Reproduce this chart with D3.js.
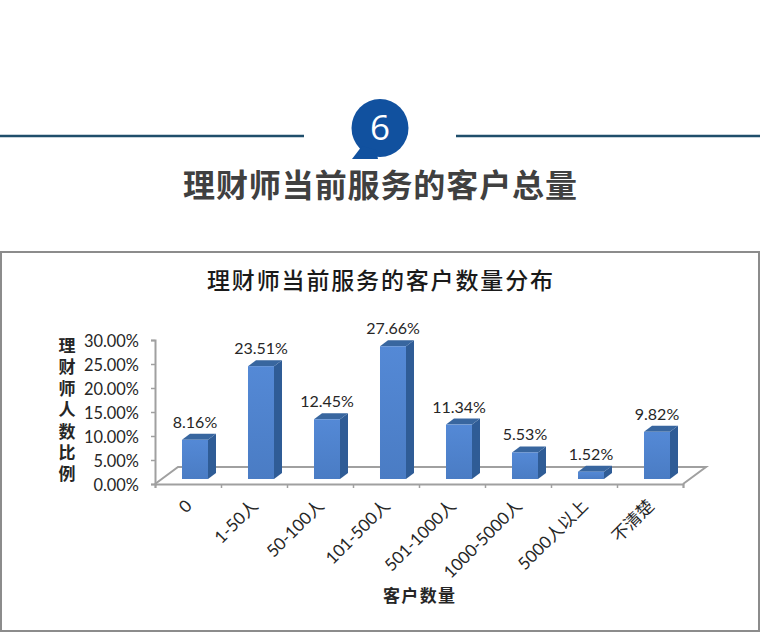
<!DOCTYPE html>
<html>
<head>
<meta charset="utf-8">
<style>
	html, body { margin: 0; padding: 0; background: #fff; }
	svg { display: block; }
</style>
<script src="https://cdn.jsdelivr.net/npm/d3@7"></script>
</head>
<body>
<div id="chart"></div>
<script>
const categories = ["0", "1-50人", "50-100人", "101-500人", "501-1000人", "1000-5000人", "5000人以上", "不清楚"];
const values = [8.16, 23.51, 12.45, 27.66, 11.34, 5.53, 1.52, 9.82];
const yTicks = [0, 5, 10, 15, 20, 25, 30];
const yTitle = "理财师人数比例";

const width = 760,
	height = 632,
	cjk = "'Noto Sans CJK SC', sans-serif",
	latin = "Lato, 'Noto Sans CJK SC', sans-serif",
	inkColor = "#262626",
	axisColor = "#a0a0a0",
	floorX = 23, // floor depth
	floorY = 17,
	barX = 8, // bar depth
	barY = 6,
	barLift = 5, // bars stand on the middle of the floor
	barShift = 7;

const svg = d3
	.select("#chart")
	.append("svg")
	.attr("width", width)
	.attr("height", height);

const defs = svg.append("defs");
const grad = defs
	.append("linearGradient")
	.attr("id", "front")
	.attr("x1", 0)
	.attr("x2", 0)
	.attr("y1", 0)
	.attr("y2", 1);
grad.append("stop").attr("offset", 0).attr("stop-color", "#5489d6");
grad.append("stop").attr("offset", 1).attr("stop-color", "#4a7cc4");

// section header
svg.append("line").attr("x1", 0).attr("x2", 304).attr("y1", 136).attr("y2", 136)
	.attr("stroke", "#1f4e6b").attr("stroke-width", 2.5);
svg.append("line").attr("x1", 456).attr("x2", 760).attr("y1", 136).attr("y2", 136)
	.attr("stroke", "#1f4e6b").attr("stroke-width", 2.5);
svg.append("ellipse").attr("cx", 380).attr("cy", 128).attr("rx", 28.5).attr("ry", 29)
	.attr("fill", "#11519f");
svg.append("path").attr("d", "M362,146L352,159H378L376,150Z").attr("fill", "#11519f");
svg.append("text").attr("x", 380).attr("y", 140).attr("text-anchor", "middle")
	.attr("font-family", "'Open Sans', sans-serif").attr("font-size", 35)
	.attr("fill", "#fff").text("6");
svg.append("text").attr("x", 380).attr("y", 197).attr("text-anchor", "middle")
	.attr("font-family", cjk).attr("font-size", 32).attr("font-weight", 700)
	.attr("textLength", 394).attr("fill", "#404040").text("理财师当前服务的客户总量");

// chart frame
svg.append("rect").attr("x", 1).attr("y", 252).attr("width", 758).attr("height", 379)
	.attr("fill", "#fff").attr("stroke", "#8c8c8c").attr("stroke-width", 2);
svg.append("text").attr("x", 380).attr("y", 289).attr("text-anchor", "middle")
	.attr("font-family", cjk).attr("font-size", 23).attr("font-weight", 500)
	.attr("textLength", 346).attr("fill", "#1a1a1a").text("理财师当前服务的客户数量分布");

// scales
const x = d3.scaleBand().domain(categories).range([155, 683]).paddingInner(0.606).paddingOuter(0.303);
const xEdge = d3.scaleLinear().domain([0, categories.length]).range([155, 683]);
const y = d3.scaleLinear().domain([0, 30]).range([484, 340]);

// floor
svg.append("path")
	.attr("d", `M${x.range()[0]},${y(0)}L${x.range()[0] + floorX},${y(0) - floorY}H${x.range()[1] + floorX}L${x.range()[1]},${y(0)}`)
	.attr("fill", "none")
	.attr("stroke", axisColor)
	.attr("stroke-width", 2);

// axes
const yAxis = svg.append("g")
	.attr("transform", `translate(${x.range()[0]},0)`)
	.call(d3.axisLeft(y).tickValues(yTicks).tickSize(4).tickPadding(12).tickFormat((d) => d3.format(".2f")(d) + "%"));
const xAxis = svg.append("g")
	.attr("transform", `translate(0,${y(0)})`)
	.call(d3.axisBottom(xEdge).ticks(categories.length).tickSize(4).tickFormat(""));
[yAxis, xAxis].forEach((g) => {
	g.selectAll(".domain").attr("stroke", axisColor).attr("stroke-width", 2);
	g.selectAll(".tick line").attr("stroke", axisColor).attr("stroke-width", 1.5);
});
yAxis.selectAll("text")
	.attr("y", 1.5)
	.attr("font-family", latin)
	.attr("font-size", 16.4)
	.attr("fill", inkColor);

// category labels
svg.append("g")
	.selectAll("text")
	.data(categories)
	.join("text")
	.attr("transform", (d) => `translate(${x(d) + x.bandwidth() / 2 + 5},${y(0) + 23}) rotate(-45)`)
	.attr("text-anchor", "end")
	.attr("font-family", latin)
	.attr("font-size", 17)
	.attr("fill", inkColor)
	.text((d) => d);

// bars
const barTop = (v) => y(v) - barLift;
const barLeft = (i) => x(categories[i]) + barShift;
const bw = x.bandwidth();
const bars = svg.append("g").selectAll("g").data(values).join("g");
bars.append("path")
	.attr("fill", "#2f5c96")
	.attr("d", (d, i) => `M${barLeft(i) + bw},${barTop(d)}l${barX},${-barY}V${y(0) - barLift - barY}l${-barX},${barY}Z`);
bars.append("path")
	.attr("fill", "#38669f")
	.attr("d", (d, i) => `M${barLeft(i)},${barTop(d)}l${barX},${-barY}h${bw}l${-barX},${barY}Z`);
bars.append("rect")
	.attr("fill", "url(#front)")
	.attr("x", (d, i) => barLeft(i))
	.attr("y", (d) => barTop(d))
	.attr("width", bw)
	.attr("height", (d) => y(0) - y(d));
bars.append("text")
	.attr("x", (d, i) => barLeft(i) + bw / 2)
	.attr("y", (d) => barTop(d) - 12)
	.attr("text-anchor", "middle")
	.attr("font-family", latin)
	.attr("font-size", 16)
	.attr("fill", inkColor)
	.text((d) => d3.format(".2f")(d) + "%");

// axis titles
svg.append("text")
	.attr("x", 67)
	.attr("y", 337)
	.attr("font-family", cjk)
	.attr("font-size", 17)
	.attr("font-weight", 700)
	.attr("fill", inkColor)
	.style("writing-mode", "vertical-rl")
	.style("letter-spacing", "4.4px")
	.text(yTitle);
svg.append("text")
	.attr("x", 419)
	.attr("y", 602)
	.attr("text-anchor", "middle")
	.attr("font-family", cjk)
	.attr("font-size", 17)
	.attr("font-weight", 700)
	.attr("textLength", 72)
	.attr("fill", inkColor)
	.text("客户数量");
</script>
</body>
</html>
